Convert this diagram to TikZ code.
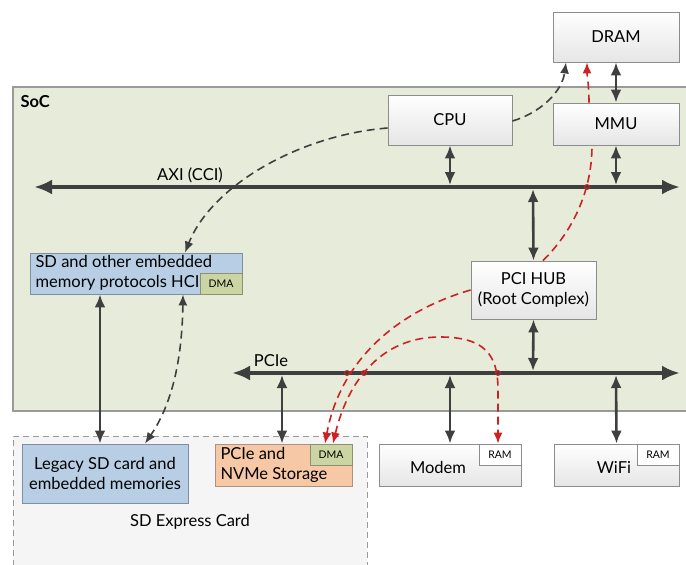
\documentclass[tikz,border=0pt]{standalone}
\usepackage{fontspec}
\setmainfont{Lato}
\usetikzlibrary{arrows.meta}
\definecolor{socfill}{HTML}{E7EBDA}
\definecolor{socline}{HTML}{9A9A9A}
\definecolor{boxline}{HTML}{8C8C8C}
\definecolor{busc}{HTML}{3F3F3F}
\definecolor{bluef}{HTML}{B7CEE4}
\definecolor{bluel}{HTML}{7D8FA0}
\definecolor{orangef}{HTML}{F6C8A5}
\definecolor{orangel}{HTML}{B09080}
\definecolor{dmaf}{HTML}{CAD5A3}
\definecolor{dmal}{HTML}{8A9270}
\definecolor{redc}{HTML}{CC2222}
\definecolor{cardf}{HTML}{F5F5F5}
\tikzset{
  wbox/.style={draw=boxline, line width=0.9pt, top color=white, bottom color=black!10, minimum width=#1, inner sep=0pt},
  txt/.style={font=\fontsize{16.5}{20}\selectfont},
  small/.style={font=\fontsize{10.5}{12}\selectfont},
  tagbox/.style={draw=boxline, line width=0.9pt, fill=white, minimum width=42pt, minimum height=21pt, inner sep=0pt, small},
  dmabox/.style={draw=dmal, line width=0.9pt, fill=dmaf, minimum width=42pt, minimum height=21pt, inner sep=0pt, small},
  bus/.style={draw=busc, line width=4.5pt, {Latex[length=18pt,width=15pt]}-{Latex[length=18pt,width=15pt]}},
  conn/.style={draw=busc, line width=2.6pt, {Latex[length=13pt,width=11pt]}-{Latex[length=13pt,width=11pt]}},
  gdash/.style={draw=busc, line width=1.6pt, dash pattern=on 8pt off 5pt},
  rdash/.style={draw=redc, line width=1.6pt, dash pattern=on 8pt off 5pt},
  dtip/.style={-{Latex[length=11pt,width=9pt]}},
  hop/.style={draw=redc, line width=0.9pt},
}
\begin{document}
\begin{tikzpicture}[x=1pt,y=-1pt]
\useasboundingbox (0,0) rectangle (686,565);
% regions
\fill[socfill] (13,87) rectangle (690,411);
\draw[socline, line width=1.2pt] (690,87) -- (13,87) -- (13,411) -- (690,411);
\node[anchor=west, font=\fontsize{16.5}{19}\selectfont\bfseries] (soc) at (17,102) {SoC};
\fill[cardf] (13,436) rectangle (367,566);
\draw[socline, line width=1pt, dash pattern=on 6pt off 4pt] (13,566) -- (13,436) -- (367,436) -- (367,566);
\node[txt] (cardlbl) at (190,522) {SD Express Card};

% boxes
\node[wbox=126pt, minimum height=50pt, txt] (dram) at (616,37) {DRAM};
\node[wbox=124pt, minimum height=50pt, txt] (cpu) at (450,120) {CPU};
\node[wbox=126pt, minimum height=42pt, txt] (mmu) at (616,124) {MMU};
\node[wbox=125pt, minimum height=58pt, txt, align=center] (hub) at (533.5,290) {PCI HUB\\(Root Complex)};
\node[wbox=142pt, minimum height=42pt] (modem) at (450,465) {};
\node[txt] (modemt) at (438,467) {Modem};
\node[tagbox, anchor=north east] (modemram) at (modem.north east) {RAM};
\node[wbox=125pt, minimum height=42pt] (wifi) at (616.5,465) {};
\node[txt] (wifit) at (614,467) {WiFi};
\node[tagbox, anchor=north east] (wifiram) at (wifi.north east) {RAM};

\node[draw=bluel, line width=0.9pt, fill=bluef, minimum width=166pt, minimum height=59pt, inner sep=0pt, txt, align=center] (legacy) at (105,473.5) {Legacy SD card and\\embedded memories};
\node[draw=orangel, line width=0.9pt, fill=orangef, minimum width=137pt, minimum height=42pt, inner sep=0pt] (nvme) at (283.5,465) {};
\node[txt, align=left, anchor=west] (nvmet) at (217,465) {PCIe and\\NVMe Storage};
\node[dmabox, anchor=north east] (nvmedma) at (nvme.north east) {DMA};
\node[draw=bluel, line width=0.9pt, fill=bluef, minimum width=212pt, minimum height=41pt, inner sep=0pt] (hci) at (136,273.5) {};
\node[txt, align=left, anchor=west] (hcit) at (32,273) {SD and other embedded\\memory protocols HCI};
\node[dmabox, anchor=south east] (hcidma) at (hci.south east) {DMA};

% buses
\coordinate (axl) at (34,187);
\coordinate (axr) at (680,187);
\coordinate (pcl) at (232,373);
\coordinate (pcr) at (680,373);
\draw[bus] (axl) -- (axr);
\draw[bus] (pcl) -- (pcr);
\node[txt] (axilbl) at (190,175) {AXI (CCI)};
\node[txt] (pcielbl) at (271,361) {PCIe};

% bus taps
\coordinate (axcpu) at (450,185);
\coordinate (axmmu) at (616,185);
\coordinate (axhub) at (533,189);
\coordinate (pchub) at (533,371);
\coordinate (pcmod) at (450,375);
\coordinate (pcwifi) at (616,375);
\coordinate (pcnvme) at (282,375);
\draw[conn] (cpu.south) -- (axcpu);
\draw[conn] (mmu.south) -- (axmmu);
\draw[conn] (dram.south) -- (mmu.north);
\draw[conn] (axhub) -- (hub.north);
\draw[conn] (hub.south) -- (pchub);
\draw[conn] (pcmod) -- (modem.north);
\draw[conn] (pcwifi) -- (wifi.north);
\draw[conn] (pcnvme) -- (nvme.north west -| pcnvme);
\draw[conn] (hci.south west -| 100,0) -- (legacy.north west -| 100,0);

% gray dashed
\draw[gdash, dtip] (cpu.west |- 0,128) .. controls (300,135) and (212,185) .. (hci.north west -| 185,0);
\draw[gdash, dtip] (cpu.east |- 0,121) .. controls (540,113) and (562,92) .. (dram.south west -| 566,0);
\draw[gdash, {Latex[length=11pt,width=9pt]}-{Latex[length=11pt,width=9pt]}] (hci.south west -| 183,0) .. controls (182,370) and (168,410) .. (legacy.north west -| 145,0);

% red dashed
\draw[rdash] (hub.north east -| 543,0) .. controls (572,232) and (592,192) .. (mmu.south west -| 592,0);
\draw[rdash, dtip] (mmu.north west -| 589,0) .. controls (589,85) and (587,75) .. (dram.south west -| 587,0);
\draw[rdash, dtip] (hub.west |- 0,290) .. controls (395,312) and (340,362) .. (nvmedma.north west -| 325,0);
\draw[rdash, {Latex[length=11pt,width=9pt]}-{Latex[length=11pt,width=9pt]}] (nvmedma.north west -| 333,0) .. controls (348,380) and (382,337) .. (440,337) .. controls (485,337) and (498,355) .. (498,390) -- (modemram.north west -| 498,0);
% hops
\draw[hop] (347,373) circle (2.5pt);
\draw[hop] (364,373) circle (2.5pt);
\draw[hop] (498,373) circle (2.5pt);
\draw[hop] (587,187) circle (2.5pt);
\end{tikzpicture}
\end{document}
